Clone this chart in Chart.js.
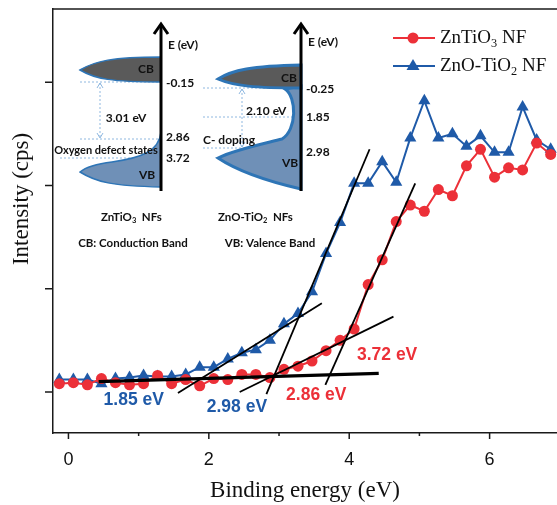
<!DOCTYPE html>
<html>
<head>
<meta charset="utf-8">
<script src="https://cdn.jsdelivr.net/npm/chart.js@4.4.0/dist/chart.umd.min.js"></script>
<style>
  html, body { margin: 0; padding: 0; background: #fff; overflow: hidden; }
  #wrap { width: 557px; height: 505px; overflow: hidden; }
</style>
</head>
<body>
<div id="wrap"><canvas id="myChart" width="564" height="505"></canvas></div>
<script>
// binding energy (eV) of each measured point
const energies = [-0.13, 0.07, 0.27, 0.47, 0.67, 0.87, 1.07, 1.27, 1.47, 1.67, 1.87, 2.07,
  2.27, 2.47, 2.67, 2.87, 3.07, 3.27, 3.47, 3.67, 3.87, 4.07, 4.27, 4.47,
  4.67, 4.87, 5.07, 5.27, 5.47, 5.67, 5.87, 6.07, 6.27, 6.47, 6.67, 6.87];

// intensity (arb. units, one unit per y tick)
const znTiO3 = [0.08, 0.09, 0.07, 0.13, 0.09, 0.07, 0.08, 0.16, 0.08, 0.12, 0.06, 0.13,
  0.12, 0.17, 0.17, 0.14, 0.22, 0.25, 0.30, 0.40, 0.50, 0.61, 1.04, 1.28,
  1.65, 1.81, 1.75, 1.96, 1.90, 2.19, 2.35, 2.08, 2.17, 2.15, 2.41, 2.30];
const znoTiO2 = [0.12, 0.12, 0.12, 0.08, 0.13, 0.14, 0.16, 0.15, 0.15, 0.17, 0.24, 0.24,
  0.32, 0.38, 0.41, 0.50, 0.66, 0.76, 0.97, 1.34, 1.64, 2.02, 2.02, 2.23,
  2.03, 2.46, 2.82, 2.46, 2.50, 2.38, 2.48, 2.32, 2.32, 2.76, 2.44, 2.35];

const xTicks = [0, 1, 2, 3, 4, 5, 6];
const yTicks = [0, 1, 2, 3];

// fitted tangent lines (energy, intensity end points)
const baseline = [{ x: 0.43, y: 0.10 }, { x: 4.42, y: 0.18 }];
const blueTail = [{ x: 1.56, y: -0.01 }, { x: 3.61, y: 0.86 }];
const blueEdge = [{ x: 2.82, y: -0.02 }, { x: 4.29, y: 2.35 }];
const redTail = [{ x: 2.44, y: 0.00 }, { x: 4.63, y: 0.73 }];
const redEdge = [{ x: 3.66, y: 0.07 }, { x: 4.94, y: 2.02 }];

const RED = "#ec3038";
const BLUE = "#1f5aa8";

const gapLabels = [
  { text: "1.85 eV", x: 0.93, y: -0.08, color: BLUE },
  { text: "2.98 eV", x: 2.40, y: -0.15, color: BLUE },
  { text: "2.86 eV", x: 3.53, y: -0.03, color: RED },
  { text: "3.72 eV", x: 4.54, y: 0.36, color: RED },
];

function pairs(xs, ys) {
  return xs.map((x, i) => ({ x: x, y: ys[i] }));
}

function tangent(points, width) {
  return {
    label: "",
    data: points,
    borderColor: "#000",
    borderWidth: width,
    pointRadius: 0,
    fill: false,
    order: 0,
  };
}

function sub(ctx, parts, x, y) {
  // parts: [text, isSubscript]
  parts.forEach(([t, s]) => {
    ctx.save();
    if (s) {
      const size = parseFloat(ctx.font.match(/([\d.]+)px/)[1]);
      ctx.font = ctx.font.replace(/[\d.]+px/, (size * 0.65).toFixed(1) + "px");
      ctx.fillText(t, x, y + size * 0.3);
      x += ctx.measureText(t).width;
    } else {
      ctx.fillText(t, x, y);
      x += ctx.measureText(t).width;
    }
    ctx.restore();
  });
  return x;
}

function arrowAxis(ctx, x, y0, y1) {
  ctx.strokeStyle = "#000";
  ctx.lineWidth = 3;
  ctx.beginPath();
  ctx.moveTo(x, y0);
  ctx.lineTo(x, y1 + 2);
  ctx.stroke();
  ctx.beginPath();
  ctx.moveTo(x - 7, y1 + 10);
  ctx.lineTo(x, y1);
  ctx.lineTo(x + 7, y1 + 10);
  ctx.stroke();
}

function dotted(ctx, x0, y0, x1, y1) {
  ctx.save();
  ctx.strokeStyle = "#8fb8e0";
  ctx.lineWidth = 1;
  ctx.setLineDash([2, 2]);
  ctx.beginPath();
  ctx.moveTo(x0, y0);
  ctx.lineTo(x1, y1);
  ctx.stroke();
  ctx.restore();
}

function doubleArrow(ctx, x, y0, y1) {
  dotted(ctx, x, y0, x, y1);
  ctx.save();
  ctx.strokeStyle = "#8fb8e0";
  ctx.lineWidth = 1;
  ctx.beginPath();
  ctx.moveTo(x - 3, y0 + 5); ctx.lineTo(x, y0); ctx.lineTo(x + 3, y0 + 5);
  ctx.moveTo(x - 3, y1 - 5); ctx.lineTo(x, y1); ctx.lineTo(x + 3, y1 - 5);
  ctx.stroke();
  ctx.restore();
}

function drawInsets(ctx) {
  ctx.save();
  ctx.textBaseline = "middle";
  const outline = "#2e75b6";
  const cbFill = "#5a5a5a";
  const vbFill = "#6f90b7";

  // ---- ZnTiO3 ----
  dotted(ctx, 80, 82, 161, 82);
  dotted(ctx, 80, 139, 161, 139);
  dotted(ctx, 60, 158, 161, 158);
  ctx.fillStyle = cbFill; ctx.strokeStyle = outline; ctx.lineWidth = 1.5;
  ctx.beginPath();
  ctx.moveTo(161, 57);
  ctx.bezierCurveTo(112, 57, 95, 61, 80, 70);
  ctx.bezierCurveTo(95, 79, 112, 82, 161, 82);
  ctx.closePath(); ctx.fill(); ctx.stroke();

  ctx.fillStyle = vbFill;
  ctx.beginPath();
  ctx.moveTo(161, 132);
  ctx.bezierCurveTo(159, 152, 140, 158, 112, 162);
  ctx.bezierCurveTo(96, 164, 86, 167, 80, 172);
  ctx.bezierCurveTo(96, 182, 112, 186, 161, 187);
  ctx.closePath(); ctx.fill(); ctx.stroke();
  doubleArrow(ctx, 100, 83, 138);
  arrowAxis(ctx, 161, 191, 24);

  ctx.fillStyle = "#111";
  ctx.font = "bold 12px Lato";
  ctx.textAlign = "left";
  ctx.fillText("E (eV)", 168, 45);
  ctx.fillText("-0.15", 166, 83);
  ctx.fillText("2.86", 166, 137);
  ctx.fillText("3.72", 166, 158);
  ctx.textAlign = "center";
  ctx.fillText("CB", 146, 69);
  ctx.fillText("VB", 147, 175);
  ctx.fillText("3.01 eV", 126, 118);
  ctx.font = "bold 11px Lato";
  ctx.fillText("Oxygen defect states", 106, 150);
  ctx.textAlign = "left";
  ctx.font = "bold 11.5px Lato";
  sub(ctx, [["ZnTiO", false], ["3", true], ["  NFs", false]], 101, 217);
  ctx.textAlign = "center";
  ctx.fillText("CB: Conduction Band", 133, 243);

  // ---- ZnO-TiO2 ----
  dotted(ctx, 203, 88, 301, 88);
  dotted(ctx, 203, 117, 301, 117);
  dotted(ctx, 203, 148, 285, 148);
  ctx.fillStyle = vbFill; ctx.strokeStyle = outline;
  ctx.beginPath();
  ctx.moveTo(301, 86);
  ctx.lineTo(285, 89);
  ctx.bezierCurveTo(297, 97, 297, 130, 282, 139);
  ctx.bezierCurveTo(258, 145, 234, 150, 218, 158);
  ctx.bezierCurveTo(236, 170, 262, 180, 301, 189);
  ctx.closePath(); ctx.fill(); ctx.stroke();
  ctx.fillStyle = cbFill;
  ctx.beginPath();
  ctx.moveTo(301, 65);
  ctx.bezierCurveTo(252, 66, 232, 70, 218, 79);
  ctx.bezierCurveTo(234, 86, 255, 88, 301, 88);
  ctx.closePath(); ctx.fill(); ctx.stroke();
  doubleArrow(ctx, 242, 89, 147);
  arrowAxis(ctx, 301, 191, 24);

  ctx.fillStyle = "#111";
  ctx.font = "bold 12px Lato";
  ctx.textAlign = "left";
  ctx.fillText("E (eV)", 308, 42);
  ctx.fillText("-0.25", 306, 89);
  ctx.fillText("1.85", 306, 117);
  ctx.fillText("2.98", 306, 152);
  ctx.fillText("C- doping", 203, 140);
  ctx.fillText("2.10 eV", 246, 111);
  ctx.textAlign = "center";
  ctx.fillText("CB", 289, 78);
  ctx.fillText("VB", 290, 163);
  ctx.font = "bold 11.5px Lato";
  ctx.textAlign = "left";
  sub(ctx, [["ZnO-TiO", false], ["2", true], ["  NFs", false]], 218, 217);
  ctx.textAlign = "center";
  ctx.fillText("VB: Valence Band", 270, 243);
  ctx.restore();
}

function drawLegend(ctx) {
  ctx.save();
  ctx.lineWidth = 2;
  ctx.strokeStyle = RED; ctx.fillStyle = RED;
  ctx.beginPath(); ctx.moveTo(393, 38); ctx.lineTo(435, 38); ctx.stroke();
  ctx.beginPath(); ctx.arc(413, 38, 5.5, 0, Math.PI * 2); ctx.fill();
  ctx.strokeStyle = BLUE; ctx.fillStyle = BLUE;
  ctx.beginPath(); ctx.moveTo(393, 66); ctx.lineTo(435, 66); ctx.stroke();
  ctx.beginPath();
  ctx.moveTo(413, 59); ctx.lineTo(419.5, 70); ctx.lineTo(406.5, 70);
  ctx.closePath(); ctx.fill();
  ctx.fillStyle = "#111";
  ctx.font = '19px "Liberation Serif"';
  ctx.textBaseline = "middle";
  ctx.textAlign = "left";
  sub(ctx, [["ZnTiO", false], ["3", true], [" NF", false]], 440, 38);
  sub(ctx, [["ZnO-TiO", false], ["2", true], [" NF", false]], 440, 66);
  ctx.restore();
}

const decorations = {
  id: "decorations",
  afterDraw(chart) {
    const ctx = chart.ctx;
    const area = chart.chartArea;
    const xs = chart.scales.x;
    const ys = chart.scales.y;
    ctx.save();
    ctx.strokeStyle = "#1a1a1a";
    ctx.lineWidth = 1.5;
    // top frame line
    ctx.beginPath();
    ctx.moveTo(area.left, area.top);
    ctx.lineTo(chart.width, area.top);
    ctx.stroke();
    // tick marks
    ctx.beginPath();
    xTicks.forEach((v) => {
      const px = xs.getPixelForValue(v);
      ctx.moveTo(px, area.bottom);
      ctx.lineTo(px, area.bottom + (v % 2 === 0 ? 6 : 3));
    });
    yTicks.forEach((v) => {
      const py = ys.getPixelForValue(v);
      ctx.moveTo(area.left, py);
      ctx.lineTo(area.left - 8, py);
    });
    ctx.stroke();

    // gap labels
    ctx.font = 'bold 17.5px "Liberation Sans"';
    ctx.textAlign = "center";
    ctx.textBaseline = "middle";
    gapLabels.forEach((l) => {
      ctx.fillStyle = l.color;
      ctx.fillText(l.text, xs.getPixelForValue(l.x), ys.getPixelForValue(l.y));
    });

    // y axis title
    ctx.save();
    ctx.translate(22, 199);
    ctx.rotate(-Math.PI / 2);
    ctx.fillStyle = "#111";
    ctx.font = '23px "Liberation Serif"';
    ctx.fillText("Intensity (cps)", 0, 0);
    ctx.restore();
    ctx.restore();

    drawInsets(ctx);
    drawLegend(ctx);
  },
};

new Chart(document.getElementById("myChart"), {
  type: "line",
  data: {
    datasets: [
      tangent(baseline, 3.2),
      tangent(blueTail, 1.8),
      tangent(blueEdge, 1.8),
      tangent(redTail, 1.8),
      tangent(redEdge, 1.8),
      {
        label: "ZnTiO3 NF",
        data: pairs(energies, znTiO3),
        borderColor: RED,
        backgroundColor: RED,
        borderWidth: 2,
        pointStyle: "circle",
        pointRadius: 5.5,
        pointBorderWidth: 0,
        order: 1,
      },
      {
        label: "ZnO-TiO2 NF",
        data: pairs(energies, znoTiO2),
        borderColor: BLUE,
        backgroundColor: BLUE,
        borderWidth: 2,
        pointStyle: "triangle",
        pointRadius: 7,
        pointBorderWidth: 0,
        order: 2,
      },
    ],
  },
  options: {
    responsive: false,
    animation: false,
    devicePixelRatio: 1,
    layout: { padding: { left: 53, top: 9, right: 0, bottom: 0 } },
    plugins: { legend: { display: false }, tooltip: { enabled: false } },
    scales: {
      x: {
        type: "linear",
        min: -0.22,
        max: 6.96,
        afterBuildTicks: (scale) => {
          scale.ticks = xTicks.map((v) => ({ value: v }));
        },
        afterFit: (scale) => {
          scale.height = 72;
          scale.paddingLeft = 0;
          scale.paddingRight = 0;
        },
        ticks: {
          callback: (v) => (v % 2 === 0 ? String(v) : ""),
          font: { family: "Liberation Sans", size: 18 },
          color: "#111",
          padding: 16,
          maxRotation: 0,
        },
        grid: { display: false, drawTicks: false },
        border: { display: true, color: "#1a1a1a", width: 1.5 },
        title: {
          display: true,
          text: "Binding energy (eV)",
          font: { family: "Liberation Serif", size: 23 },
          color: "#111",
          padding: { top: 0, bottom: 0 },
        },
      },
      y: {
        type: "linear",
        min: -0.397,
        max: 3.708,
        afterFit: (scale) => {
          scale.width = 0;
          scale.paddingTop = 0;
          scale.paddingBottom = 0;
        },
        ticks: { display: false },
        grid: { display: false, drawTicks: false },
        border: { display: true, color: "#1a1a1a", width: 1.5 },
      },
    },
  },
  plugins: [decorations],
});
</script>
</body>
</html>
